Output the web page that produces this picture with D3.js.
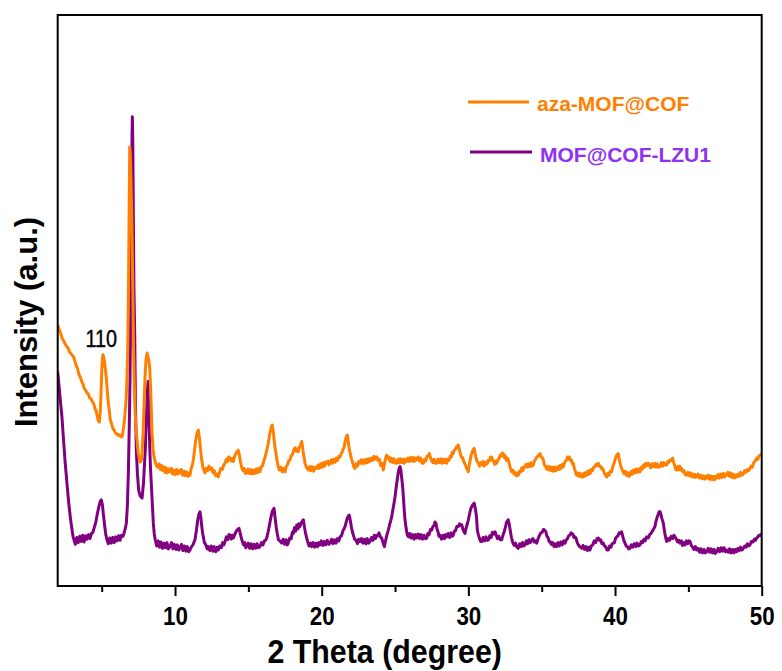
<!DOCTYPE html>
<html><head><meta charset="utf-8">
<script src="https://cdn.jsdelivr.net/npm/d3@7"></script>
<style>
html,body{margin:0;padding:0;background:#fff;}
svg{display:block;font-family:"Liberation Sans",Arial,Helvetica,sans-serif;}
</style></head>
<body>
<svg id="chart" width="782" height="671"></svg>
<script>
const seriesNames = ["aza-MOF@COF", "MOF@COF-LZU1"];
const xMajorTicks = [10, 20, 30, 40, 50];
const xMinorTicks = [5, 15, 25, 35, 45];
const peakLabel = "110";
const peakLabelTheta = 5.09;

const purpleTheta = [
2.00,2.10,2.20,2.29,2.40,2.50,2.63,2.75,2.87,2.98,3.05,3.11,3.20,3.30,3.40,3.50,3.60,3.70,3.80,3.90,
4.00,4.10,4.20,4.30,4.40,4.50,4.60,4.70,4.80,4.90,4.97,5.05,5.12,5.20,5.28,5.36,5.45,5.55,5.65,5.75,
5.85,5.95,6.05,6.15,6.25,6.35,6.45,6.52,6.60,6.68,6.75,6.82,6.88,6.93,6.98,7.03,7.07,7.09,7.12,7.16,
7.20,7.25,7.30,7.36,7.44,7.52,7.62,7.75,7.85,7.92,7.97,8.04,8.10,8.16,8.22,8.28,8.33,8.38,8.45,8.52,
8.58,8.65,8.75,8.85,8.95,9.05,9.15,9.25,9.35,9.45,9.55,9.66,9.76,9.86,9.96,10.06,10.16,10.26,10.34,10.44,
10.54,10.64,10.74,10.84,10.94,11.02,11.12,11.22,11.36,11.46,11.55,11.63,11.70,11.76,11.82,11.88,11.93,12.00,12.10,12.20,
12.27,12.37,12.47,12.57,12.67,12.77,12.87,12.95,13.05,13.15,13.25,13.33,13.41,13.50,13.60,13.68,13.75,13.83,13.90,13.97,
14.07,14.17,14.27,14.36,14.43,14.51,14.59,14.67,14.75,14.82,14.89,14.99,15.09,15.19,15.29,15.39,15.49,15.59,15.69,15.79,
15.89,15.99,16.09,16.17,16.25,16.35,16.45,16.55,16.65,16.75,16.82,16.90,16.97,17.05,17.15,17.27,17.37,17.47,17.57,17.65,
17.72,17.82,17.92,18.00,18.06,18.14,18.22,18.30,18.38,18.45,18.52,18.60,18.68,18.75,18.82,18.90,18.98,19.06,19.14,19.24,
19.32,19.42,19.52,19.62,19.72,19.80,19.88,19.98,20.08,20.18,20.28,20.38,20.48,20.57,20.67,20.77,20.87,20.97,21.07,21.17,
21.25,21.35,21.45,21.52,21.59,21.67,21.75,21.82,21.88,21.95,22.02,22.09,22.16,22.24,22.34,22.44,22.52,22.61,22.71,22.81,
22.91,23.01,23.11,23.21,23.29,23.39,23.49,23.59,23.67,23.75,23.83,23.91,24.00,24.09,24.18,24.27,24.36,24.45,24.54,24.62,
24.70,24.77,24.85,24.93,25.00,25.08,25.15,25.22,25.28,25.34,25.40,25.46,25.52,25.58,25.63,25.68,25.76,25.84,25.92,26.00,
26.10,26.20,26.30,26.40,26.48,26.58,26.68,26.78,26.88,26.98,27.08,27.16,27.24,27.32,27.42,27.50,27.58,27.66,27.72,27.79,
27.86,27.93,28.00,28.07,28.17,28.27,28.37,28.45,28.52,28.62,28.72,28.82,28.90,28.97,29.05,29.13,29.21,29.31,29.40,29.48,
29.55,29.62,29.70,29.77,29.85,29.93,30.00,30.08,30.16,30.23,30.32,30.40,30.47,30.53,30.57,30.61,30.68,30.76,30.84,30.91,
31.00,31.10,31.20,31.28,31.37,31.46,31.55,31.64,31.73,31.82,31.90,31.98,32.07,32.17,32.27,32.36,32.45,32.53,32.60,32.66,
32.72,32.78,32.84,32.90,32.95,33.03,33.12,33.22,33.31,33.40,33.50,33.60,33.70,33.78,33.86,33.95,34.04,34.13,34.22,34.32,
34.40,34.48,34.57,34.66,34.75,34.84,34.94,35.03,35.12,35.20,35.28,35.36,35.44,35.50,35.57,35.66,35.75,35.84,35.93,36.02,
36.11,36.20,36.30,36.40,36.50,36.59,36.68,36.76,36.84,36.92,37.00,37.05,37.12,37.20,37.27,37.34,37.42,37.50,37.58,37.66,
37.73,37.82,37.92,38.02,38.12,38.20,38.29,38.38,38.48,38.58,38.68,38.77,38.86,38.94,39.02,39.11,39.20,39.28,39.36,39.45,
39.54,39.63,39.72,39.80,39.88,39.96,40.04,40.11,40.20,40.28,40.37,40.45,40.52,40.60,40.68,40.76,40.84,40.93,41.02,41.11,
41.20,41.30,41.40,41.50,41.60,41.70,41.79,41.88,41.97,42.06,42.15,42.27,42.36,42.45,42.54,42.63,42.72,42.80,42.88,42.95,
43.01,43.07,43.13,43.20,43.29,43.36,43.44,43.52,43.62,43.72,43.82,43.92,44.01,44.09,44.18,44.26,44.34,44.43,44.52,44.60,
44.68,44.77,44.86,44.95,45.03,45.11,45.20,45.29,45.38,45.48,45.57,45.67,45.77,45.87,45.97,46.07,46.16,46.25,46.35,46.45,
46.55,46.65,46.75,46.84,46.93,47.03,47.13,47.23,47.33,47.43,47.52,47.61,47.71,47.81,47.91,48.01,48.11,48.20,48.29,48.38,
48.47,48.56,48.66,48.75,48.84,48.93,49.02,49.11,49.20,49.30,49.40,49.50,49.58,49.66,49.74,49.82,49.90,50.00];
const purpleIntensity = [
37.5,34.8,32.0,29.6,25.5,21.9,18.0,14.6,11.8,9.8,8.6,8.1,7.3,8.5,7.6,8.7,7.8,8.9,7.7,8.8,
8.2,9.0,8.3,9.2,9.4,10.3,11.2,12.6,13.8,14.8,15.1,14.2,12.4,10.6,9.0,8.1,7.4,8.4,7.5,8.5,
7.6,8.6,7.9,8.8,8.0,8.9,8.7,9.2,10.0,11.0,14.0,20.0,28.0,36.0,50.0,68.0,79.0,82.2,78.0,64.0,
52.0,44.3,32.0,23.8,19.5,16.8,15.8,15.4,18.0,21.5,23.8,29.0,33.5,35.8,30.0,24.0,20.5,18.0,14.5,11.0,
9.2,8.1,7.0,7.9,6.8,7.7,6.6,7.5,6.7,7.6,6.5,6.9,7.6,6.5,7.3,6.4,7.2,6.3,6.7,7.3,
6.2,7.0,6.1,6.9,6.0,6.3,6.9,7.2,8.1,9.8,11.6,12.6,13.0,12.0,10.5,9.3,8.6,7.6,7.2,6.5,
6.9,6.2,7.0,6.1,6.9,6.0,6.8,6.3,7.0,6.7,7.6,7.2,7.8,8.6,8.1,9.0,8.9,8.2,8.9,8.4,
9.0,9.6,9.9,10.1,9.4,8.5,7.8,7.2,7.6,6.7,6.9,7.5,6.6,7.4,6.5,7.3,6.6,7.4,6.7,6.9,
7.6,7.2,7.9,8.0,8.4,9.5,10.8,12.2,13.2,13.6,12.0,10.3,9.2,8.1,7.9,7.5,8.2,7.3,8.1,7.2,
7.5,8.4,8.3,9.4,9.2,10.2,9.6,10.7,10.0,10.9,10.4,11.0,11.4,11.6,10.4,9.2,8.4,7.6,7.0,7.5,
6.9,7.6,6.8,7.5,6.9,7.6,7.2,7.9,7.1,7.8,7.2,8.0,7.3,7.5,8.2,7.4,8.1,7.5,8.3,7.9,
8.6,8.8,9.7,10.0,10.4,11.2,11.9,12.3,12.4,11.5,10.4,9.5,8.9,8.2,8.0,7.4,8.2,7.8,8.3,7.5,
8.2,7.4,8.3,7.5,7.8,8.5,8.0,8.9,8.3,8.9,8.8,9.3,8.6,8.4,7.6,6.9,8.0,9.0,9.8,10.6,
11.4,12.1,13.3,14.5,15.6,17.3,18.6,19.9,20.6,20.9,20.2,18.8,17.4,15.2,13.2,11.6,10.0,8.9,8.6,9.2,
8.4,9.0,8.2,9.0,8.4,9.1,8.3,9.0,8.2,8.9,8.3,8.4,9.2,9.0,9.9,9.8,10.4,10.6,11.2,11.0,
10.0,9.5,8.7,8.9,8.2,8.9,8.3,9.0,8.6,9.2,8.5,9.3,8.7,8.9,9.6,9.7,10.4,10.4,10.9,10.6,
10.7,10.0,9.5,9.2,10.2,10.9,11.6,12.6,13.5,13.9,14.3,14.5,13.6,12.6,11.6,9.8,9.0,8.3,7.8,7.8,
8.5,7.9,8.6,8.0,8.1,8.8,8.5,9.4,9.1,9.5,8.9,8.3,8.7,8.1,8.1,8.9,9.6,10.3,11.2,11.4,
11.6,10.9,10.0,9.0,8.4,7.6,7.1,7.5,6.8,6.6,7.4,6.9,7.6,7.0,7.2,7.9,7.4,8.1,7.6,8.1,
8.3,7.7,7.9,7.5,8.3,8.8,9.3,9.4,9.9,9.8,9.5,8.7,8.5,7.8,7.8,7.3,7.6,6.9,7.4,6.9,
7.6,7.0,7.7,7.2,7.9,7.5,8.1,8.3,8.8,8.9,9.3,9.2,9.1,8.5,8.6,8.4,7.6,7.2,6.9,6.8,
6.6,7.1,6.4,6.9,6.2,6.8,6.3,7.0,7.2,7.9,7.6,8.3,8.4,8.0,8.1,7.4,7.5,7.0,6.9,6.3,
6.3,7.0,6.8,7.4,7.5,7.6,8.4,8.6,8.8,9.3,9.2,9.5,8.8,8.0,7.5,7.0,6.9,6.5,6.6,7.2,
6.8,7.4,6.9,7.5,7.0,7.2,7.8,7.6,8.2,7.9,8.6,8.4,9.0,9.2,9.6,10.0,10.4,11.4,12.1,12.6,
13.0,13.0,12.5,11.8,11.0,9.8,8.6,7.8,8.3,8.0,8.7,8.3,8.9,8.6,8.2,7.7,8.0,7.5,7.9,7.1,
7.6,7.2,7.9,7.4,7.9,7.8,7.1,6.8,6.4,6.9,6.3,6.6,5.9,6.5,5.8,6.4,5.8,6.0,6.6,5.9,
6.5,5.8,6.4,5.7,6.0,6.6,6.0,6.7,6.1,6.7,6.0,6.3,5.9,6.5,5.8,6.4,5.8,6.4,6.0,6.6,
6.2,6.8,6.3,6.6,7.0,6.8,7.4,7.0,7.2,7.8,7.7,8.2,8.0,8.4,8.6,8.9,8.8,9.2];

const orangeTheta = [
2.00,2.10,2.20,2.30,2.40,2.50,2.63,2.72,2.82,2.91,3.00,3.09,3.18,3.27,3.36,3.45,3.54,3.63,3.72,3.81,
3.90,4.00,4.09,4.18,4.27,4.36,4.45,4.55,4.63,4.68,4.76,4.84,4.90,4.95,5.00,5.05,5.09,5.14,5.20,5.25,
5.31,5.37,5.43,5.51,5.59,5.68,5.76,5.85,5.93,6.02,6.11,6.20,6.29,6.38,6.46,6.54,6.61,6.67,6.72,6.76,
6.79,6.83,6.86,6.89,6.91,6.94,6.96,7.00,7.04,7.07,7.10,7.13,7.17,7.22,7.28,7.34,7.41,7.48,7.56,7.63,
7.69,7.75,7.82,7.90,7.96,8.02,8.09,8.15,8.21,8.27,8.32,8.36,8.40,8.43,8.50,8.57,8.65,8.74,8.84,8.92,
9.00,9.08,9.16,9.24,9.32,9.40,9.48,9.56,9.66,9.75,9.84,9.93,10.02,10.11,10.20,10.28,10.34,10.43,10.52,10.61,
10.70,10.79,10.88,10.96,11.02,11.10,11.18,11.25,11.33,11.41,11.50,11.59,11.66,11.74,11.82,11.90,11.97,12.04,12.13,12.22,
12.31,12.40,12.50,12.59,12.68,12.77,12.86,12.95,13.04,13.13,13.22,13.32,13.41,13.50,13.58,13.66,13.75,13.83,13.90,13.97,
14.05,14.13,14.22,14.31,14.38,14.46,14.55,14.64,14.72,14.80,14.89,14.98,15.07,15.16,15.25,15.34,15.43,15.52,15.61,15.70,
15.79,15.88,15.97,16.06,16.14,16.22,16.29,16.36,16.44,16.52,16.58,16.63,16.70,16.76,16.82,16.88,16.95,17.03,17.11,17.20,
17.30,17.40,17.50,17.58,17.66,17.75,17.84,17.92,18.00,18.09,18.18,18.26,18.33,18.40,18.47,18.55,18.64,18.70,18.76,18.81,
18.86,18.93,19.00,19.09,19.18,19.27,19.36,19.45,19.54,19.66,19.75,19.84,19.93,20.02,20.11,20.20,20.27,20.34,20.43,20.50,
20.57,20.66,20.74,20.83,20.92,21.00,21.09,21.17,21.25,21.32,21.40,21.46,21.52,21.59,21.66,21.72,21.75,21.80,21.86,21.92,
21.98,22.05,22.12,22.20,22.27,22.35,22.44,22.52,22.61,22.70,22.78,22.87,22.96,23.04,23.12,23.20,23.29,23.38,23.47,23.56,
23.65,23.75,23.84,23.93,24.02,24.11,24.20,24.28,24.36,24.43,24.50,24.58,24.67,24.75,24.84,24.93,25.02,25.11,25.20,25.28,
25.36,25.45,25.54,25.62,25.70,25.79,25.88,25.96,26.05,26.14,26.22,26.30,26.39,26.48,26.57,26.66,26.75,26.84,26.93,27.02,
27.10,27.18,27.26,27.34,27.42,27.50,27.58,27.66,27.75,27.84,27.93,28.02,28.11,28.20,28.29,28.38,28.45,28.52,28.60,28.68,
28.76,28.84,28.90,28.97,29.05,29.13,29.20,29.26,29.31,29.37,29.44,29.51,29.58,29.65,29.72,29.80,29.88,29.95,29.99,30.05,
30.12,30.20,30.28,30.34,30.40,30.46,30.52,30.60,30.68,30.76,30.84,30.91,31.00,31.07,31.13,31.20,31.28,31.36,31.44,31.52,
31.59,31.66,31.73,31.80,31.87,31.93,32.00,32.08,32.16,32.24,32.31,32.38,32.45,32.52,32.59,32.66,32.72,32.80,32.88,32.95,
33.03,33.11,33.19,33.27,33.34,33.40,33.48,33.56,33.64,33.72,33.80,33.86,33.94,34.02,34.10,34.18,34.26,34.34,34.43,34.51,
34.59,34.67,34.75,34.82,34.89,34.96,35.04,35.11,35.18,35.26,35.34,35.41,35.48,35.56,35.64,35.72,35.80,35.88,35.95,36.02,
36.10,36.18,36.26,36.34,36.41,36.48,36.56,36.63,36.70,36.76,36.82,36.88,36.95,37.02,37.09,37.16,37.22,37.29,37.35,37.39,
37.47,37.55,37.63,37.71,37.78,37.84,37.92,38.00,38.08,38.16,38.23,38.30,38.38,38.46,38.54,38.62,38.70,38.78,38.86,38.94,
39.02,39.10,39.15,39.20,39.28,39.36,39.43,39.51,39.59,39.67,39.77,39.84,39.92,40.00,40.07,40.15,40.22,40.30,40.37,40.45,
40.53,40.61,40.69,40.77,40.85,40.93,41.02,41.10,41.18,41.26,41.35,41.44,41.53,41.62,41.70,41.78,41.86,41.94,42.02,42.10,
42.18,42.27,42.35,42.43,42.51,42.61,42.70,42.79,42.88,42.97,43.07,43.16,43.25,43.34,43.43,43.52,43.60,43.68,43.76,43.84,
43.93,44.00,44.07,44.14,44.20,44.27,44.34,44.42,44.48,44.54,44.62,44.70,44.78,44.89,44.98,45.07,45.16,45.25,45.34,45.43,
45.50,45.57,45.66,45.75,45.84,45.93,46.02,46.11,46.18,46.25,46.34,46.43,46.52,46.61,46.70,46.79,46.86,46.93,47.02,47.11,
47.20,47.29,47.38,47.47,47.54,47.61,47.70,47.79,47.88,47.97,48.06,48.15,48.22,48.29,48.38,48.47,48.56,48.65,48.75,48.84,
48.93,49.02,49.11,49.20,49.28,49.36,49.44,49.52,49.59,49.66,49.74,49.82,49.90,50.00];
const orangeIntensity = [
45.7,44.9,44.3,43.4,43.0,42.4,41.9,41.6,40.9,40.7,40.4,40.1,39.3,38.6,38.0,37.0,36.6,35.9,35.4,34.6,
34.3,33.8,33.6,32.9,32.8,32.3,32.0,31.0,30.6,29.9,29.0,28.7,30.5,33.5,37.5,40.0,40.5,40.0,39.2,38.0,
36.6,34.6,32.6,30.8,29.1,28.3,27.6,27.3,26.8,26.7,26.4,26.5,26.2,26.1,27.2,28.8,30.8,33.0,36.1,40.0,
44.3,53.0,62.3,71.0,76.9,75.8,74.4,70.5,66.0,61.8,56.0,50.1,42.0,35.6,30.5,27.5,25.6,23.5,22.4,21.7,
22.0,22.9,26.5,32.6,36.8,39.6,40.8,40.2,39.5,38.4,35.5,32.6,29.5,26.8,24.0,22.6,21.7,21.0,20.8,21.4,
20.4,21.1,20.2,20.9,19.9,20.7,19.8,20.5,20.0,20.6,19.6,20.3,19.5,20.4,19.6,20.2,19.8,20.4,19.4,20.1,
19.3,20.0,19.2,19.8,19.4,20.6,21.2,22.1,23.8,25.5,26.8,27.3,26.0,23.9,22.1,20.8,20.3,19.8,20.6,20.2,
21.0,20.4,20.7,19.8,20.2,19.3,19.6,19.1,20.0,20.6,20.4,21.2,21.5,22.2,21.8,22.6,22.4,21.9,22.3,21.8,
22.6,23.1,23.5,23.8,23.0,21.8,20.7,20.2,20.6,19.7,19.8,20.5,19.7,20.4,19.6,20.3,19.7,20.5,19.8,20.6,
20.0,20.9,21.1,21.9,22.6,23.4,24.2,25.0,26.4,27.4,28.0,28.2,27.0,25.5,24.2,23.3,22.0,21.0,20.3,20.8,
20.0,20.6,20.0,20.9,21.2,21.9,22.1,22.8,23.0,23.8,24.2,23.6,24.0,23.5,24.3,24.6,25.3,24.2,23.0,22.4,
21.5,21.0,20.6,20.3,20.9,20.2,20.9,20.1,20.8,20.6,21.2,20.6,21.4,20.8,21.6,21.0,21.7,21.5,21.9,21.2,
21.5,22.1,21.5,22.2,21.7,22.4,22.0,22.7,22.6,23.1,23.5,24.0,24.2,25.2,26.0,26.4,26.4,25.5,24.4,23.5,
22.8,22.1,21.5,20.8,20.6,21.4,21.0,21.8,21.5,22.1,21.4,22.1,21.5,22.2,21.6,22.3,21.8,22.4,22.0,22.7,
22.2,22.6,22.0,22.2,21.1,21.5,20.3,21.4,22.4,22.9,22.4,22.6,21.8,22.4,21.6,22.3,21.5,21.5,22.2,21.6,
22.3,21.6,22.2,21.5,22.2,21.8,22.4,21.8,22.5,21.9,22.5,21.8,22.4,22.1,22.6,21.9,22.4,21.5,21.5,22.2,
21.9,22.7,22.9,23.2,22.4,22.0,21.6,22.2,21.5,21.5,22.2,21.6,22.3,21.5,22.2,21.6,22.2,21.5,22.2,22.0,
22.7,22.6,23.4,23.2,23.8,24.0,24.4,24.3,24.7,24.0,23.4,22.6,22.6,22.1,21.6,21.2,20.6,20.3,20.0,21.0,
22.0,23.0,23.6,23.9,24.1,23.2,22.4,21.8,21.5,21.0,21.6,21.2,21.8,21.0,21.2,21.7,21.4,22.0,21.9,22.6,
22.6,22.0,21.8,21.3,21.9,21.5,22.0,22.3,22.9,22.8,23.3,23.2,22.5,22.8,22.0,22.4,22.1,21.3,20.5,20.0,
20.3,19.6,19.9,19.3,19.8,19.4,20.1,20.0,20.7,20.2,20.9,20.9,21.3,20.8,21.4,20.9,21.6,21.0,21.2,21.9,
22.2,22.6,22.8,23.0,23.2,22.6,22.5,22.1,21.2,21.0,20.5,20.9,20.3,20.9,20.2,20.8,20.1,20.8,20.2,20.3,
20.9,20.4,21.1,20.6,21.3,20.9,21.6,21.9,22.1,22.6,22.3,22.6,22.0,22.1,21.4,21.5,20.6,20.1,19.6,19.4,
19.8,19.2,19.7,19.1,19.6,19.1,19.8,19.3,20.0,19.5,20.2,19.7,20.4,20.2,20.8,20.9,21.3,21.1,21.5,21.0,
20.9,20.5,20.6,20.3,19.7,19.4,19.1,19.7,19.4,20.1,20.0,20.9,21.4,22.1,22.7,23.0,23.2,22.0,21.2,20.6,
20.1,19.7,20.1,19.4,19.9,19.2,19.4,20.1,19.6,20.3,19.8,20.5,19.9,20.5,20.0,20.8,20.5,21.2,20.8,21.5,
21.1,21.5,21.1,20.7,21.4,20.9,21.5,20.8,21.4,20.8,20.9,21.6,21.0,21.6,21.2,21.2,21.8,21.7,22.1,22.0,
22.4,21.6,21.1,20.4,20.3,20.9,20.4,21.0,20.3,20.6,20.0,20.2,19.5,19.4,19.9,19.3,19.8,19.1,19.6,19.0,
19.5,19.1,19.6,18.9,19.4,18.8,19.3,18.7,19.2,18.9,19.4,18.7,19.3,18.6,19.2,18.6,19.2,18.9,19.5,18.9,
19.6,19.0,19.7,19.1,19.6,19.4,19.9,19.2,19.8,19.0,19.6,18.9,19.4,19.1,19.6,19.2,19.9,19.4,19.7,20.2,
19.9,20.4,20.2,20.6,21.0,20.8,21.5,21.8,22.0,22.4,22.2,22.8,22.9,23.2];

const W = 782, H = 671;
const plotLeft = 57.7, plotRight = 761.7, plotTop = 15, plotBottom = 586;
const svg = d3.select("#chart");
svg.append("rect").attr("width", W).attr("height", H).attr("fill", "#fff");

const x = d3.scaleLinear().domain([2, 50]).range([plotLeft, plotRight]);
const y = d3.scaleLinear().domain([0, 100]).range([plotBottom, plotTop]);

svg.append("clipPath").attr("id", "plotclip")
  .append("rect").attr("x", plotLeft).attr("y", plotTop)
  .attr("width", plotRight - plotLeft).attr("height", plotBottom - plotTop);

const line = d3.line().x(d => x(d[0])).y(d => y(d[1]));
const purpleData = purpleTheta.map((t, i) => [t, purpleIntensity[i]]);
const orangeData = orangeTheta.map((t, i) => [t, orangeIntensity[i]]);

const plot = svg.append("g").attr("clip-path", "url(#plotclip)");
plot.append("path").datum(purpleData).attr("d", line)
  .attr("fill", "none").attr("stroke", "#800080").attr("stroke-width", 3).attr("stroke-linejoin", "round");
plot.append("path").datum(orangeData).attr("d", line)
  .attr("fill", "none").attr("stroke", "#ff8000").attr("stroke-width", 3).attr("stroke-linejoin", "round");

// frame
svg.append("rect").attr("x", plotLeft).attr("y", plotTop)
  .attr("width", plotRight - plotLeft).attr("height", plotBottom - plotTop)
  .attr("fill", "none").attr("stroke", "#000").attr("stroke-width", 2);

// x axis major
const gMaj = svg.append("g").attr("transform", `translate(0,${plotBottom})`)
  .call(d3.axisBottom(x).tickValues(xMajorTicks).tickSize(10).tickPadding(11).tickFormat(d3.format("d")));
gMaj.select(".domain").remove();
gMaj.selectAll(".tick line").attr("stroke", "#000").attr("stroke-width", 2);
gMaj.selectAll(".tick text").attr("font-family", "'Liberation Sans',Arial,sans-serif")
  .attr("font-size", 26).attr("font-weight", "bold").attr("fill", "#000")
  .attr("transform", "scale(0.86,1)");

const gMin = svg.append("g").attr("transform", `translate(0,${plotBottom})`)
  .call(d3.axisBottom(x).tickValues(xMinorTicks).tickSize(6).tickFormat(""));
gMin.select(".domain").remove();
gMin.selectAll(".tick line").attr("stroke", "#000").attr("stroke-width", 2);

// axis titles
const tx = (plotLeft + plotRight) / 2 - 25;
svg.append("text").attr("x", tx).attr("y", 663)
  .attr("text-anchor", "middle").attr("font-size", 33).attr("font-weight", "bold")
  .attr("transform", `translate(${tx},0) scale(0.92,1) translate(${-tx},0)`)
  .attr("fill", "#000").text("2 Theta (degree)");
svg.append("text").attr("transform", "translate(37,322) rotate(-90)")
  .attr("text-anchor", "middle").attr("font-size", 31).attr("font-weight", "bold")
  .attr("fill", "#000").text("Intensity (a.u.)");

// peak label
const px = x(peakLabelTheta);
svg.append("text").attr("x", px).attr("y", 347)
  .attr("text-anchor", "middle").attr("font-size", 23).attr("fill", "#000")
  .attr("stroke", "#000").attr("stroke-width", 0.4)
  .attr("transform", `translate(${px},0) scale(0.86,1) translate(${-px},0)`)
  .attr("dx", -2)
  .text(peakLabel);

// legend
const legend = [
  {name: seriesNames[0], color: "#ff8000", text: "#ff8000", ly: 102, ty: 111, x1: 468, x2: 529, tx: 537},
  {name: seriesNames[1], color: "#800080", text: "#8f33f2", ly: 152, ty: 162, x1: 470, x2: 532, tx: 540}
];
const lg = svg.append("g");
legend.forEach(l => {
  lg.append("line").attr("x1", l.x1).attr("x2", l.x2).attr("y1", l.ly).attr("y2", l.ly)
    .attr("stroke", l.color).attr("stroke-width", 3);
  lg.append("text").attr("x", l.tx).attr("y", l.ty).attr("font-size", 21).attr("font-weight", "bold")
    .attr("fill", l.text).text(l.name);
});
</script>
</body></html>
